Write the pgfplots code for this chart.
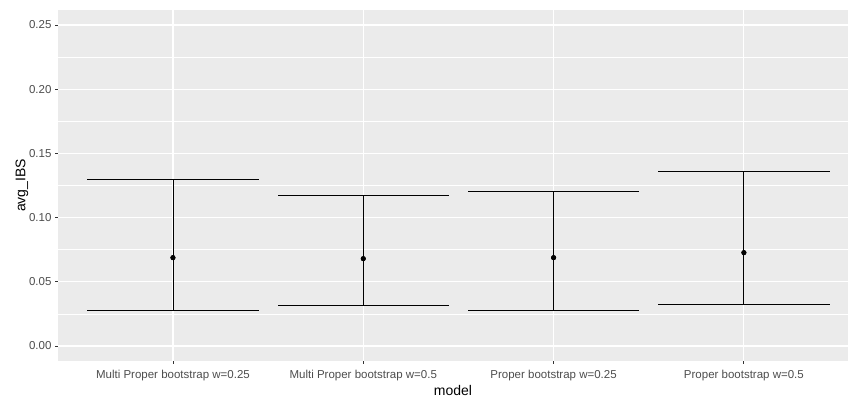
\documentclass[border=0pt]{standalone}
\usepackage{pgfplots}
\usepackage{pgfplotstable}
\pgfplotsset{compat=1.18}
\usepackage{fontspec}
\setmainfont{Liberation Sans}
\definecolor{panelbg}{HTML}{EBEBEB}
\definecolor{ticktext}{HTML}{4D4D4D}
\definecolor{tickline}{HTML}{333333}

\pgfplotstableread{
x  y       lo      hi
0  0.0688  0.0278  0.1300
1  0.0680  0.0314  0.1176
2  0.0688  0.0278  0.1205
3  0.0727  0.0322  0.1360
}\ibs

\begin{document}
\begin{tikzpicture}
\begin{axis}[
  at={(58pt,37pt)}, anchor=south west,
  scale only axis, width=790pt, height=351pt,
  xmin=-0.604, xmax=3.547, ymin=-0.0117, ymax=0.2617,
  axis background/.style={fill=panelbg},
  axis line style={draw=none},
  xtick={0,1,2,3},
  xticklabels={Multi Proper bootstrap w=0.25, Multi Proper bootstrap w=0.5, Proper bootstrap w=0.25, Proper bootstrap w=0.5},
  ytick={0,0.05,0.10,0.15,0.20,0.25},
  minor ytick={0.025,0.075,0.125,0.175,0.225},
  xmajorgrids, ymajorgrids, yminorgrids,
  major grid style={white, line width=1.1pt},
  minor grid style={white, line width=0.55pt},
  tick pos=left, tick align=outside,
  major tick length=3pt, minor tick length=0pt,
  every tick/.style={tickline, line width=0.9pt},
  /pgf/number format/assume math mode=true,
  yticklabel style={/pgf/number format/fixed, /pgf/number format/fixed zerofill, /pgf/number format/precision=2},
  xticklabel style={yshift=-3pt},
  ticklabel style={font=\fontsize{11.5}{13}\selectfont, text=ticktext},
  xlabel={model}, ylabel={avg\_IBS},
  label style={font=\fontsize{14}{16}\selectfont, text=black},
  xlabel style={yshift=3pt},
  ylabel style={yshift=-6pt},
  clip=false,
]
% vertical ranges
\addplot[black, line width=0.9pt, only marks, mark=none,
  error bars/.cd, y dir=both, y explicit, error mark=none,
  error bar style={black, line width=0.9pt}]
  table[x=x, y=y, y error plus expr=\thisrow{hi}-\thisrow{y}, y error minus expr=\thisrow{y}-\thisrow{lo}] {\ibs};
% caps (width 0.9 category units)
\addplot[black, only marks, mark=-, mark size=85.6pt, mark options={line width=0.9pt}]
  table[x=x, y=lo] {\ibs};
\addplot[black, only marks, mark=-, mark size=85.6pt, mark options={line width=0.9pt}]
  table[x=x, y=hi] {\ibs};
% means
\addplot[black, only marks, mark=*, mark size=2.3pt]
  table[x=x, y=y] {\ibs};
\end{axis}
\pgfresetboundingbox
\path (0,0) rectangle (848pt,398pt);
\end{tikzpicture}
\end{document}
